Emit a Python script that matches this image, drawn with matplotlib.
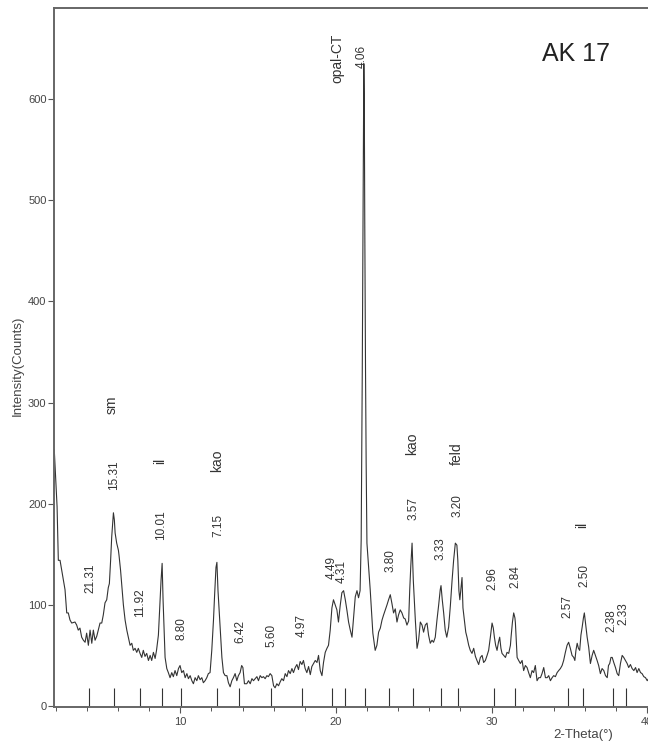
import matplotlib
matplotlib.use("Agg")
import matplotlib.pyplot as plt
from matplotlib.ticker import MultipleLocator

plt.rcParams['font.family'] = ['Liberation Sans', 'DejaVu Sans']

# ---- data: XRD trace (2-theta in degrees, intensity in counts) ----
two_theta = [
    1.90, 2.08, 2.16, 2.27, 2.38, 2.59, 2.70, 2.80, 2.91, 3.02, 3.23, 3.34, 3.44, 3.55, 3.66, 3.77, 3.88, 3.98,
    4.09, 4.20, 4.31, 4.41, 4.52, 4.63, 4.73, 4.84, 4.95, 5.05, 5.16, 5.27, 5.37, 5.44, 5.52, 5.59, 5.70, 5.76,
    5.81, 5.91, 6.02, 6.06, 6.16, 6.34, 6.45, 6.56, 6.66, 6.77, 6.88, 6.98, 7.09, 7.20, 7.30, 7.41, 7.52, 7.62,
    7.73, 7.84, 7.95, 8.06, 8.16, 8.27, 8.38, 8.47, 8.59, 8.70, 8.76, 8.83, 8.89, 8.96, 9.02, 9.13, 9.23, 9.34,
    9.45, 9.55, 9.66, 9.77, 9.88, 9.98, 10.09, 10.20, 10.31, 10.42, 10.52, 10.63, 10.74, 10.84, 10.95, 11.06,
    11.16, 11.27, 11.38, 11.48, 11.59, 11.70, 11.80, 11.91, 12.02, 12.13, 12.20, 12.29, 12.35, 12.42, 12.48,
    12.60, 12.67, 12.77, 12.88, 12.99, 13.09, 13.20, 13.31, 13.41, 13.52, 13.63, 13.73, 13.84, 13.94, 14.02,
    14.12, 14.27, 14.38, 14.49, 14.60, 14.70, 14.81, 14.92, 15.02, 15.13, 15.24, 15.34, 15.45, 15.56, 15.66,
    15.77, 15.88, 15.99, 16.09, 16.20, 16.31, 16.42, 16.52, 16.63, 16.74, 16.85, 16.95, 17.06, 17.17, 17.27,
    17.38, 17.49, 17.59, 17.70, 17.81, 17.91, 18.02, 18.13, 18.24, 18.35, 18.45, 18.56, 18.67, 18.78, 18.88,
    18.99, 19.10, 19.20, 19.31, 19.42, 19.52, 19.63, 19.74, 19.84, 19.95, 20.06, 20.16, 20.27, 20.38, 20.49,
    20.60, 20.71, 20.81, 20.92, 21.03, 21.13, 21.24, 21.35, 21.45, 21.55, 21.62, 21.66, 21.69, 21.73, 21.76,
    21.79, 21.82, 21.85, 21.90, 21.94, 21.99, 22.20, 22.37, 22.52, 22.63, 22.74, 22.85, 22.96, 23.06, 23.17,
    23.28, 23.38, 23.49, 23.60, 23.70, 23.81, 23.92, 24.02, 24.13, 24.24, 24.35, 24.45, 24.56, 24.67, 24.74,
    24.81, 24.89, 24.97, 25.03, 25.10, 25.21, 25.31, 25.42, 25.53, 25.63, 25.74, 25.85, 25.95, 26.06, 26.17,
    26.27, 26.38, 26.49, 26.60, 26.70, 26.75, 26.83, 26.92, 27.02, 27.12, 27.24, 27.35, 27.46, 27.56, 27.67,
    27.77, 27.83, 27.90, 27.96, 28.02, 28.10, 28.16, 28.25, 28.34, 28.42, 28.53, 28.63, 28.74, 28.85, 28.96,
    29.06, 29.17, 29.28, 29.39, 29.49, 29.60, 29.71, 29.81, 29.92, 30.03, 30.11, 30.18, 30.26, 30.35, 30.44,
    30.52, 30.60, 30.67, 30.78, 30.89, 30.99, 31.10, 31.21, 31.25, 31.34, 31.42, 31.50, 31.53, 31.64, 31.74,
    31.85, 31.96, 32.06, 32.17, 32.28, 32.38, 32.49, 32.60, 32.70, 32.81, 32.92, 33.03, 33.14, 33.24, 33.35,
    33.46, 33.57, 33.67, 33.78, 33.89, 33.99, 34.10, 34.21, 34.31, 34.42, 34.53, 34.63, 34.74, 34.85, 34.95,
    35.06, 35.17, 35.28, 35.35, 35.42, 35.50, 35.58, 35.66, 35.74, 35.82, 35.90, 35.96, 36.05, 36.14, 36.24,
    36.35, 36.46, 36.56, 36.67, 36.78, 36.88, 36.99, 37.10, 37.21, 37.32, 37.43, 37.51, 37.59, 37.67, 37.75,
    37.85, 37.96, 38.07, 38.17, 38.28, 38.39, 38.49, 38.60, 38.71, 38.81, 38.92, 39.03, 39.14, 39.25, 39.35,
    39.46, 39.57, 39.67, 39.78, 39.89, 40.00, 40.08,
]
counts = [
    253, 197, 144, 144, 134, 115, 92, 92, 85, 82, 83, 80, 75, 77, 68, 65, 63, 72,
    60, 75, 62, 75, 65, 69, 75, 82, 82, 90, 102, 105, 117, 121, 144, 167, 191, 184,
    171, 161, 154, 149, 134, 100, 85, 75, 68, 60, 62, 55, 57, 53, 57, 52, 48, 55,
    49, 52, 45, 50, 45, 53, 47, 55, 70, 105, 124, 141, 105, 75, 48, 37, 33, 28,
    33, 29, 35, 30, 37, 40, 33, 35, 28, 32, 27, 30, 25, 22, 28, 25,
    30, 26, 28, 23, 25, 28, 32, 33, 55, 85, 109, 137, 142, 114, 98,
    65, 48, 33, 30, 30, 23, 19, 25, 28, 32, 25, 30, 33, 40, 38,
    22, 22, 25, 22, 27, 25, 27, 29, 25, 30, 28, 29, 27, 30, 29,
    32, 30, 20, 18, 22, 20, 24, 27, 25, 32, 29, 35, 32, 37, 33,
    38, 41, 36, 44, 41, 45, 37, 33, 39, 31, 39, 42, 45, 43, 50,
    35, 30, 43, 53, 57, 60, 75, 97, 105, 100, 95, 83, 99, 112, 114,
    105, 94, 83, 75, 68, 87, 108, 114, 107, 114, 164, 260, 330, 460, 570,
    635, 600, 480, 330, 240, 161, 115, 72, 55, 60, 73, 77, 85, 90, 95,
    100, 105, 110, 101, 92, 96, 83, 90, 95, 92, 87, 86, 80, 84, 115,
    139, 161, 124, 105, 85, 57, 65, 83, 80, 73, 80, 82, 70, 62, 65,
    63, 68, 85, 100, 115, 119, 105, 92, 75, 68, 78, 99, 124, 144, 161,
    159, 144, 114, 105, 114, 127, 97, 85, 73, 68, 60, 55, 52, 57, 49,
    45, 41, 48, 50, 43, 45, 50, 55, 68, 82, 77, 68, 60, 55, 63,
    68, 57, 52, 50, 48, 53, 52, 60, 68, 83, 92, 87, 82, 48, 45,
    42, 45, 35, 40, 38, 33, 28, 35, 33, 40, 25, 28, 28, 32, 38,
    28, 28, 30, 25, 28, 30, 29, 33, 35, 37, 40, 45, 53, 60, 63,
    57, 50, 48, 45, 55, 62, 57, 55, 70, 78, 87, 92, 80, 68, 58,
    42, 50, 55, 50, 45, 40, 32, 37, 35, 30, 28, 40, 42, 48, 48,
    43, 38, 32, 30, 42, 50, 48, 45, 42, 38, 41, 37, 35, 38, 33,
    37, 33, 32, 29, 28, 25, 27,
]

# ---- peak markers (2-theta) and d-spacing labels ----
peak_pos = [4.143, 5.768, 7.410, 8.827, 10.044, 12.369, 13.782, 15.813, 17.833, 19.757, 20.591,
            21.874, 23.392, 24.922, 26.750, 27.860, 30.172, 31.478, 34.884, 35.897, 37.778, 38.622]
d_labels = ["21.31", "15.31", "11.92", "10.01", "8.80", "7.15", "6.42", "5.60", "4.97", "4.49", "4.31",
            "4.06", "3.80", "3.57", "3.33", "3.20", "2.96", "2.84", "2.57", "2.50", "2.38", "2.33"]
d_label_x = [4.20, 5.74, 7.41, 8.76, 10.09, 12.45, 13.84, 15.88, 17.81, 19.74, 20.38,
             21.67, 23.49, 24.99, 26.75, 27.78, 30.03, 31.53, 34.85, 35.97, 37.68, 38.49]
d_label_y = [112, 214, 88, 164, 65, 167, 62, 58, 68, 126, 122,
             631, 132, 184, 144, 187, 115, 117, 87, 118, 73, 80]

minerals = ["sm", "il", "kao", "opal-CT", "kao", "feld", "il"]
mineral_x = [5.61, 8.70, 12.35, 20.11, 24.89, 27.78, 35.82]
mineral_y = [289, 239, 231, 616, 248, 238, 176]

sample_name = "AK 17"

# ---- figure ----
W, H = 648, 749
fig = plt.figure(figsize=(W / 100, H / 100), dpi=100)
left_px, right_px, top_px, bot_px = 53.5, 648, 8, 707
ax = fig.add_axes([left_px / W, 1 - bot_px / H, (right_px - left_px) / W, (bot_px - top_px) / H])
ax.set_xlim(1.85, 40.05)
ax.set_ylim(-1, 690)

ax.plot(two_theta, counts, color='#333333', lw=0.8)
ax.vlines(peak_pos, -1, 18, color='#333333', lw=0.8)

txt_col = '#333333'
for s, x, y in zip(d_labels, d_label_x, d_label_y):
    ax.text(x, y, s, rotation=90, ha='center', va='bottom', fontsize=8.5, color=txt_col)
for s, x, y in zip(minerals, mineral_x, mineral_y):
    ax.text(x, y, s, rotation=90, ha='center', va='bottom', fontsize=10, color=txt_col)
ax.text(35.43, 645, sample_name, ha='center', va='center', fontsize=18, color='#222222')

for sp in ['left', 'bottom', 'top']:
    ax.spines[sp].set_color('#666666')
    ax.spines[sp].set_linewidth(1.4)
ax.spines['right'].set_visible(False)

ax.set_xticks([10, 20, 30, 40])
ax.xaxis.set_minor_locator(MultipleLocator(2))
ax.set_yticks([0, 100, 200, 300, 400, 500, 600])
ax.tick_params(axis='both', which='major', direction='out', length=4, width=0.8,
               colors='#555555', labelsize=8, labelcolor='#444444')
ax.tick_params(axis='x', which='minor', direction='out', length=3, width=0.7, colors='#555555')
ax.tick_params(axis='y', pad=1)
ax.tick_params(axis='x', pad=3)
ax.tick_params(top=False, right=False, which='both')

fig.text(583 / W, 1 - 735 / H, "2-Theta(°)", ha='center', va='center', fontsize=9.5, color='#444444')
fig.text(18 / W, 1 - 366 / H, "Intensity(Counts)", ha='center', va='center', rotation=90,
         fontsize=9.5, color='#444444')

fig.savefig("out.png", dpi=100)
